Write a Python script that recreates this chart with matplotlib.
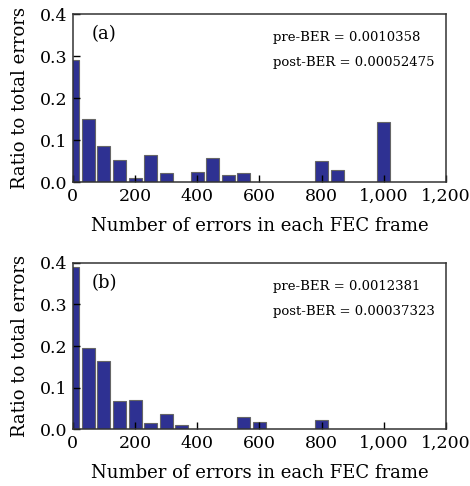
import numpy as np
import matplotlib.pyplot as plt

# Data (bin centre -> ratio)
bins_a = [0, 50, 100, 150, 200, 250, 300, 400, 450, 500, 550, 800, 850, 1000]
ratio_a = [0.290, 0.151, 0.086, 0.052, 0.009, 0.065, 0.022, 0.025, 0.058, 0.017, 0.021, 0.051, 0.029, 0.143]

bins_b = [0, 50, 100, 150, 200, 250, 300, 350, 550, 600, 800]
ratio_b = [0.389, 0.195, 0.165, 0.067, 0.071, 0.015, 0.036, 0.011, 0.030, 0.017, 0.022]

ber_a = ["pre-BER = 0.0010358", "post-BER = 0.00052475"]
ber_b = ["pre-BER = 0.0012381", "post-BER = 0.00037323"]

plt.rcParams['font.family'] = ['DejaVu Serif']

fig = plt.figure(figsize=(4.7, 4.86), dpi=100)
ax_a = fig.add_axes([0.155, 0.6255, 0.794, 0.3455])
ax_b = fig.add_axes([0.155, 0.117, 0.794, 0.342])

panels = [(ax_a, bins_a, ratio_a, "(a)", ber_a), (ax_b, bins_b, ratio_b, "(b)", ber_b)]
for ax, x, y, tag, ber in panels:
    ax.bar(x, y, width=42, color="#2e3192", edgecolor="#666666", linewidth=0.8)
    ax.set_xlim(0, 1200)
    ax.set_ylim(0, 0.4)
    ax.set_xticks(np.arange(0, 1201, 200))
    ax.set_xticklabels(["0", "200", "400", "600", "800", "1,000", "1,200"])
    ax.set_yticks([0.0, 0.1, 0.2, 0.3, 0.4])
    ax.set_yticklabels(["0.0", "0.1", "0.2", "0.3", "0.4"])
    ax.tick_params(direction="in", length=5, width=1, labelsize=12.5, pad=4)
    for s in ax.spines.values():
        s.set_linewidth(1.1)
        s.set_color("#333333")
    ax.set_xlabel("Number of errors in each FEC frame", fontsize=13, labelpad=9)
    ax.set_ylabel("Ratio to total errors", fontsize=13, labelpad=8)
    ax.text(0.05, 0.88, tag, transform=ax.transAxes, fontsize=13, va="center")
    ax.text(0.535, 0.86, ber[0], transform=ax.transAxes, fontsize=9.5, va="center")
    ax.text(0.535, 0.71, ber[1], transform=ax.transAxes, fontsize=9.5, va="center")

fig.savefig("out.png", dpi=100)
